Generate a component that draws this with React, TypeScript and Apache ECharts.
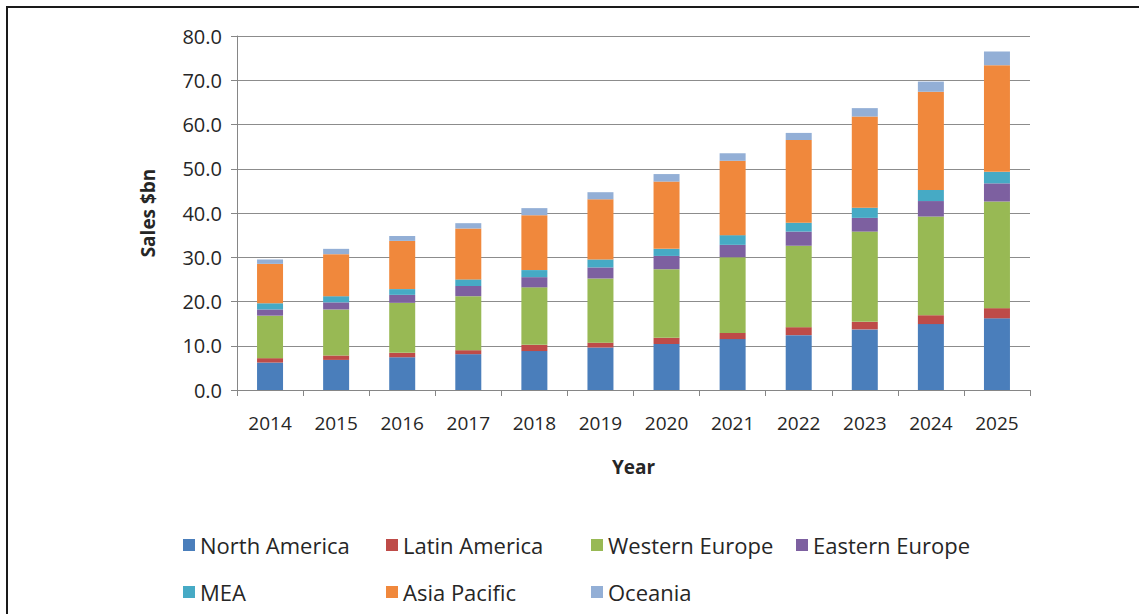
import React, { useEffect, useRef } from "react";
import * as echarts from "echarts";

const years = ["2014", "2015", "2016", "2017", "2018", "2019", "2020", "2021", "2022", "2023", "2024", "2025"];
const northAmerica = [6.2, 6.8, 7.4, 8.1, 8.8, 9.6, 10.4, 11.5, 12.4, 13.7, 14.9, 16.2];
const latinAmerica = [1.0, 1.0, 1.0, 0.9, 1.4, 1.1, 1.4, 1.4, 1.8, 1.7, 2.0, 2.3];
const westernEurope = [9.6, 10.4, 11.3, 12.2, 13.0, 14.5, 15.5, 17.1, 18.4, 20.4, 22.3, 24.1];
const easternEurope = [1.4, 1.6, 1.8, 2.3, 2.3, 2.5, 3.0, 2.8, 3.2, 3.1, 3.5, 4.1];
const mea = [1.4, 1.4, 1.3, 1.5, 1.6, 1.8, 1.6, 2.2, 2.0, 2.3, 2.5, 2.6];
const asiaPacific = [8.9, 9.5, 10.9, 11.5, 12.4, 13.6, 15.2, 16.8, 18.7, 20.6, 22.2, 24.1];
const oceania = [1.0, 1.2, 1.1, 1.2, 1.6, 1.6, 1.7, 1.7, 1.6, 1.9, 2.3, 3.1];

const seriesNames = ["North America", "Latin America", "Western Europe", "Eastern Europe", "MEA", "Asia Pacific", "Oceania"];
const seriesData = [northAmerica, latinAmerica, westernEurope, easternEurope, mea, asiaPacific, oceania];
const seriesColors = ["#4A7EBB", "#BE4B48", "#98B954", "#7D60A0", "#46AAC5", "#F0883C", "#93AFD6"];

const FONT = "Open Sans";
const TEXT = "#262626";

export default function App() {
  const ref = useRef<HTMLDivElement>(null);
  useEffect(() => {
    if (!ref.current) return;
    const chart = echarts.init(ref.current, null, { renderer: "svg" });
    const legendPos = [
      [178, 529], [381, 529], [586, 529], [791, 529],
      [178, 576], [381, 576], [586, 576],
    ];
    chart.setOption({
      animation: false,
      backgroundColor: "#ffffff",
      textStyle: { fontFamily: FONT, color: TEXT },
      grid: { left: 237, right: 109, top: 36, bottom: 224 },
      legend: seriesNames.map((n, i) => ({
        data: [n],
        left: legendPos[i][0],
        top: legendPos[i][1],
        icon: "rect",
        itemWidth: 12,
        itemHeight: 12,
        itemGap: 6,
        selectedMode: false,
        textStyle: { fontFamily: FONT, fontSize: 22, color: TEXT },
      })),
      xAxis: {
        type: "category",
        data: years,
        name: "Year",
        nameLocation: "middle",
        nameGap: 67,
        nameTextStyle: { fontFamily: FONT, fontSize: 19, fontWeight: "bold", color: TEXT },
        axisLine: { show: true, lineStyle: { color: "#868686", width: 1 } },
        axisTick: { show: true, length: 6, lineStyle: { color: "#868686" } },
        axisLabel: { fontFamily: FONT, fontSize: 19, color: TEXT, margin: 23 },
      },
      yAxis: {
        type: "value",
        min: 0,
        max: 80,
        interval: 10,
        name: "Sales $bn",
        nameLocation: "middle",
        nameGap: 80,
        nameTextStyle: { fontFamily: FONT, fontSize: 19, fontWeight: "bold", color: TEXT },
        axisLine: { show: true, lineStyle: { color: "#868686", width: 1 } },
        axisTick: { show: true, length: 6, lineStyle: { color: "#868686" } },
        axisLabel: {
          fontFamily: FONT,
          fontSize: 20,
          color: TEXT,
          margin: 15,
          formatter: (v: number) => v.toFixed(1),
        },
        splitLine: { show: true, lineStyle: { color: "#8c8c8c", width: 1 } },
      },
      series: seriesNames.map((n, i) => ({
        name: n,
        type: "bar",
        stack: "total",
        barWidth: 26,
        data: seriesData[i],
        itemStyle: { color: seriesColors[i] },
      })),
      graphic: [
        { type: "line", shape: { x1: 6, y1: 7, x2: 1139, y2: 7 }, style: { stroke: "#1a1a1a", lineWidth: 2 } },
        { type: "line", shape: { x1: 7, y1: 6, x2: 7, y2: 614 }, style: { stroke: "#1a1a1a", lineWidth: 2 } },
      ],
    });
    return () => chart.dispose();
  }, []);
  return (
    <div
      ref={ref}
      style={{ position: "absolute", left: 0, top: 0, width: 1139, height: 614 }}
    />
  );
}
